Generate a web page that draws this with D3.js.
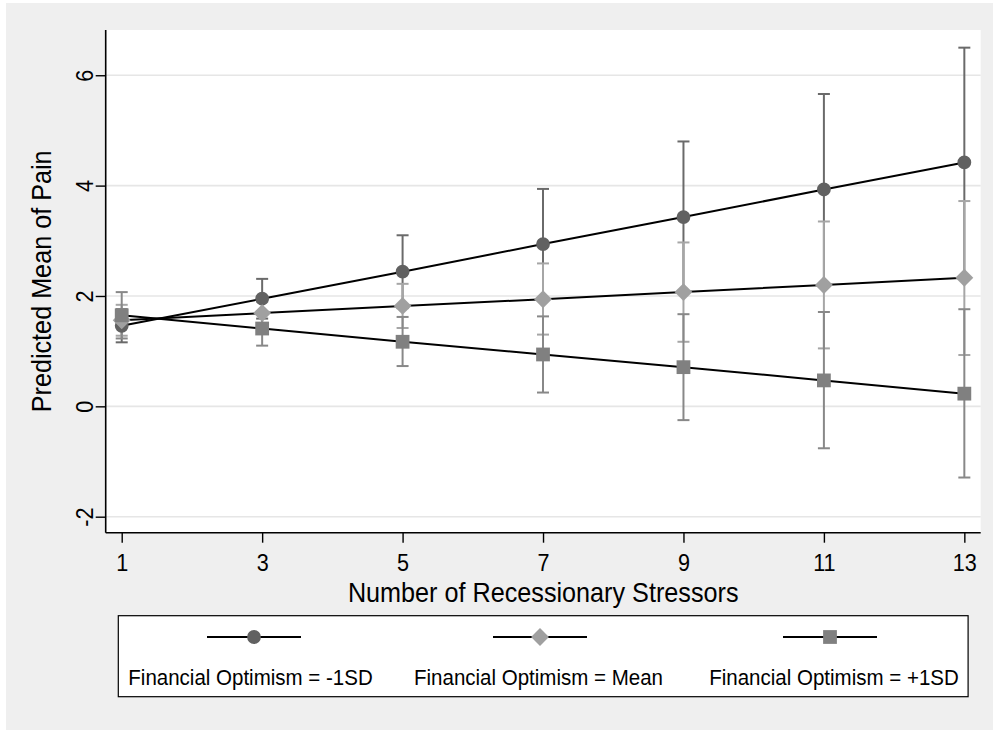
<!DOCTYPE html>
<html>
<head>
<meta charset="utf-8">
<script src="https://cdn.jsdelivr.net/npm/d3@7"></script>
<style>
  html, body { margin: 0; padding: 0; background: #ffffff; }
  svg { display: block; }
  text { font-family: "Liberation Sans", Arial, sans-serif; fill: #000; }
</style>
</head>
<body>
<svg id="chart" width="993" height="731"></svg>
<script>
// ---- data ----
const stressors = [1, 3, 5, 7, 9, 11, 13];
const xTickValues = [1, 3, 5, 7, 9, 11, 13];
const yTickValues = [-2, 0, 2, 4, 6];

const seriesNames = ["Financial Optimism = -1SD", "Financial Optimism = Mean", "Financial Optimism = +1SD"];

const lowMean  = [1.46, 1.95, 2.44, 2.94, 3.43, 3.93, 4.42];
const lowLo    = [1.16, 1.59, 1.78, 1.95, 2.07, 2.20, 2.34];
const lowHi    = [1.76, 2.31, 3.10, 3.94, 4.80, 5.66, 6.50];

const midMean  = [1.56, 1.69, 1.82, 1.94, 2.07, 2.20, 2.33];
const midLo    = [1.28, 1.49, 1.42, 1.30, 1.17, 1.05, 0.93];
const midHi    = [1.84, 1.89, 2.22, 2.59, 2.97, 3.35, 3.72];

const highMean = [1.65, 1.41, 1.17, 0.94, 0.71, 0.47, 0.23];
const highLo   = [1.23, 1.10, 0.73, 0.25, -0.25, -0.76, -1.29];
const highHi   = [2.07, 1.72, 1.62, 1.63, 1.67, 1.71, 1.76];

const xTitle = "Number of Recessionary Stressors";
const yTitle = "Predicted Mean of Pain";

// ---- styling ----
const styles = [
  { symbol: d3.symbolCircle, size: 150, rot: 0,  marker: "#616161", bar: "#6a6a6a" },
  { symbol: d3.symbolSquare, size: 160, rot: 45, marker: "#a0a0a0", bar: "#a6a6a6" },
  { symbol: d3.symbolSquare, size: 190, rot: 0,  marker: "#808080", bar: "#888888" }
];
const squeeze = 0.9; // horizontal text compression

const series = [
  { name: seriesNames[0], mean: lowMean,  lo: lowLo,  hi: lowHi },
  { name: seriesNames[1], mean: midMean,  lo: midLo,  hi: midHi },
  { name: seriesNames[2], mean: highMean, lo: highLo, hi: highHi }
];

const svg = d3.select("#chart");

// outer background
svg.append("rect").attr("x", 6).attr("y", 3).attr("width", 987).attr("height", 727).attr("fill", "#efefef");

const plot = { left: 105.7, right: 980.7, top: 30, bottom: 532.7 };
svg.append("rect").attr("x", plot.left).attr("y", plot.top)
  .attr("width", plot.right - plot.left).attr("height", plot.bottom - plot.top).attr("fill", "#ffffff");

const x = d3.scaleLinear().domain([0.772, 13.233]).range([plot.left, plot.right]);
const y = d3.scaleLinear().domain([-2.29, 6.82]).range([plot.bottom, plot.top]);

// gridlines
svg.append("g").selectAll("line").data(yTickValues).join("line")
  .attr("x1", plot.left).attr("x2", plot.right)
  .attr("y1", d => y(d)).attr("y2", d => y(d))
  .attr("stroke", "#e6e6e6").attr("stroke-width", 1.6);

// error bars
const capHalf = 6;
series.forEach((s, i) => {
  const g = svg.append("g").attr("stroke", styles[i].bar).attr("stroke-width", 2).attr("fill", "none");
  stressors.forEach((xv, k) => {
    g.append("line").attr("x1", x(xv)).attr("x2", x(xv)).attr("y1", y(s.lo[k])).attr("y2", y(s.hi[k]));
    g.append("line").attr("x1", x(xv) - capHalf).attr("x2", x(xv) + capHalf).attr("y1", y(s.lo[k])).attr("y2", y(s.lo[k]));
    g.append("line").attr("x1", x(xv) - capHalf).attr("x2", x(xv) + capHalf).attr("y1", y(s.hi[k])).attr("y2", y(s.hi[k]));
  });
});

// lines
const lineGen = d3.line().x((d, k) => x(stressors[k])).y(d => y(d));
series.forEach(s => {
  svg.append("path").attr("d", lineGen(s.mean)).attr("fill", "none")
    .attr("stroke", "#000").attr("stroke-width", 2);
});

// markers
series.forEach((s, i) => {
  const sym = d3.symbol().type(styles[i].symbol).size(styles[i].size);
  svg.append("g").selectAll("path").data(s.mean).join("path")
    .attr("d", sym)
    .attr("transform", (d, k) => `translate(${x(stressors[k])},${y(d)}) rotate(${styles[i].rot})`)
    .attr("fill", styles[i].marker);
});

// axes
const yAxis = svg.append("g").attr("transform", `translate(${plot.left},0)`)
  .call(d3.axisLeft(y).tickValues(yTickValues).tickSize(10).tickFormat(d3.format("d")));
yAxis.select(".domain").attr("d", `M0,${plot.top}V${plot.bottom}`).attr("stroke", "#000").attr("stroke-width", 1.6);
yAxis.selectAll(".tick line").attr("stroke", "#000").attr("stroke-width", 1.4);
yAxis.selectAll(".tick text")
  .attr("x", null).attr("dy", null).attr("y", null)
  .attr("text-anchor", "middle")
  .attr("transform", `translate(-13,0) rotate(-90) scale(${squeeze},1)`)
  .style("font-size", "24px").style("font-family", "'Liberation Sans', Arial, sans-serif").attr("fill", "#000")
  .text(d => d < 0 ? "-" + Math.abs(d) : d);

const xAxis = svg.append("g").attr("transform", `translate(0,${plot.bottom})`)
  .call(d3.axisBottom(x).tickValues(xTickValues).tickSize(10).tickFormat(d3.format("d")));
xAxis.select(".domain").attr("d", `M${plot.left},0H${plot.right}`).attr("stroke", "#000").attr("stroke-width", 1.6);
xAxis.selectAll(".tick line").attr("stroke", "#000").attr("stroke-width", 1.4);
xAxis.selectAll(".tick text")
  .attr("y", null).attr("dy", null)
  .attr("transform", `translate(0,38) scale(${squeeze},1)`)
  .style("font-size", "24px").style("font-family", "'Liberation Sans', Arial, sans-serif").attr("fill", "#000");

// axis titles
svg.append("text")
  .attr("transform", `translate(${(plot.left + plot.right) / 2},602) scale(${squeeze},1)`)
  .attr("text-anchor", "middle").style("font-size", "28px").text(xTitle);
svg.append("text")
  .attr("transform", `translate(51,${(plot.top + plot.bottom) / 2}) rotate(-90) scale(${squeeze},1)`)
  .attr("text-anchor", "middle").style("font-size", "28px").text(yTitle);

// legend
const leg = { left: 118.3, right: 968.1, top: 615.7, bottom: 696.7 };
svg.append("rect").attr("x", leg.left).attr("y", leg.top)
  .attr("width", leg.right - leg.left).attr("height", leg.bottom - leg.top)
  .attr("fill", "#ffffff").attr("stroke", "#000").attr("stroke-width", 1.2);

const keyCenters = [254, 540, 830];
const textCenters = [250.5, 538.5, 834];
series.forEach((s, i) => {
  const cx = keyCenters[i];
  svg.append("line").attr("x1", cx - 47).attr("x2", cx + 47).attr("y1", 637).attr("y2", 637)
    .attr("stroke", "#000").attr("stroke-width", 2);
  svg.append("path").attr("d", d3.symbol().type(styles[i].symbol).size(styles[i].size)())
    .attr("transform", `translate(${cx},637) rotate(${styles[i].rot})`).attr("fill", styles[i].marker);
  svg.append("text")
    .attr("transform", `translate(${textCenters[i]},685) scale(${squeeze},1)`)
    .attr("text-anchor", "middle").style("font-size", "22.8px").text(s.name);
});
</script>
</body>
</html>
